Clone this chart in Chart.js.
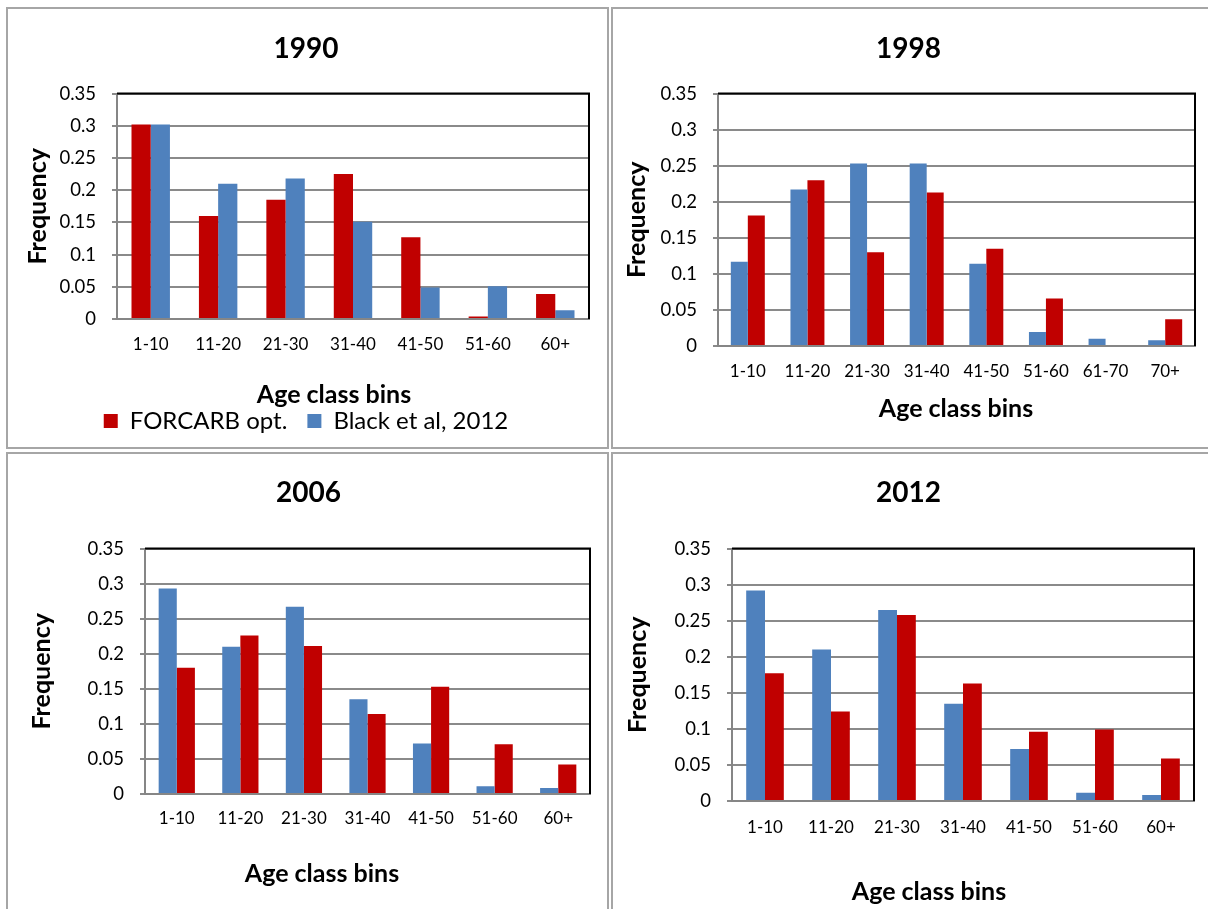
<!DOCTYPE html>
<html>
<head>
<meta charset="utf-8">
<title>Age class bins</title>
<script src="https://cdn.jsdelivr.net/npm/chart.js@4.4.1/dist/chart.umd.min.js"></script>
<style>
  body { margin: 0; background: #fff; width: 1208px; height: 909px; overflow: hidden; position: relative; font-family: Lato, sans-serif; }
  .panel { position: absolute; border: 2px solid #a6a6a6; box-sizing: border-box; }
  canvas { position: absolute; }
  .xtitle { position: absolute; transform: translate(-50%, -50%); font-weight: bold; font-size: 25px; white-space: nowrap; color: #000; }
</style>
</head>
<body>
<div class="panel" style="left:6px;top:7px;width:603px;height:442px"></div>
<div class="panel" style="left:611px;top:7px;width:610px;height:442px"></div>
<div class="panel" style="left:6px;top:452px;width:603px;height:470px"></div>
<div class="panel" style="left:611px;top:452px;width:610px;height:470px"></div>

<canvas id="chart1990" width="598" height="437" style="left:8px;top:10px"></canvas>
<canvas id="chart1998" width="595" height="437" style="left:613px;top:10px"></canvas>
<canvas id="chart2006" width="598" height="455" style="left:8px;top:454px"></canvas>
<canvas id="chart2012" width="595" height="455" style="left:613px;top:454px"></canvas>

<div class="xtitle" style="left:334px;top:393px">Age class bins</div>
<div class="xtitle" style="left:956px;top:407px">Age class bins</div>
<div class="xtitle" style="left:322px;top:872px">Age class bins</div>
<div class="xtitle" style="left:929px;top:890px">Age class bins</div>

<script>
// Data
const bins7 = ["1-10", "11-20", "21-30", "31-40", "41-50", "51-60", "60+"];
const bins8 = ["1-10", "11-20", "21-30", "31-40", "41-50", "51-60", "61-70", "70+"];
const yTickLabels = ["0", "0.05", "0.1", "0.15", "0.2", "0.25", "0.3", "0.35"];

const forcarb1990 = [0.302, 0.160, 0.185, 0.225, 0.127, 0.004, 0.039];
const black1990 = [0.302, 0.210, 0.218, 0.151, 0.049, 0.051, 0.0135];

const forcarb1998 = [0.181, 0.230, 0.130, 0.213, 0.135, 0.066, 0, 0.037];
const black1998 = [0.117, 0.217, 0.253, 0.253, 0.114, 0.0195, 0.010, 0.008];

const forcarb2006 = [0.180, 0.226, 0.211, 0.114, 0.153, 0.071, 0.042];
const black2006 = [0.293, 0.210, 0.267, 0.135, 0.072, 0.011, 0.0086];

const forcarb2012 = [0.177, 0.124, 0.258, 0.163, 0.096, 0.099, 0.059];
const black2012 = [0.292, 0.210, 0.265, 0.135, 0.072, 0.0116, 0.0083];

const labelForcarb = "FORCARB opt.";
const labelBlack = "Black et al, 2012";
const red = "#C00000";
const blue = "#4F81BD";

Chart.defaults.font.family = "Lato, sans-serif";
Chart.defaults.color = "#000";
Chart.defaults.animation = false;

// black frame on top and right of the plot area (Excel style)
const plotFrame = {
    id: "plotFrame",
    afterDraw(chart) {
        const ctx = chart.ctx;
        const a = chart.chartArea;
        ctx.save();
        ctx.strokeStyle = "#000";
        ctx.lineWidth = 2;
        ctx.beginPath();
        ctx.moveTo(a.left, a.top);
        ctx.lineTo(a.right, a.top);
        ctx.lineTo(a.right, a.bottom);
        ctx.stroke();
        ctx.restore();
    }
};

function ds(label, data, color) {
    return { label: label, data: data, backgroundColor: color, borderWidth: 0 };
}

// build one panel
function createChart(id, title, labels, datasets, lay) {
    const ctx = document.getElementById(id).getContext("2d");
    return new Chart(ctx, {
        type: "bar",
        data: { labels: labels, datasets: datasets },
        plugins: [plotFrame],
        options: {
            responsive: false,
            layout: { padding: { left: lay.padLeft, right: lay.padRight, top: 0, bottom: lay.padBottom } },
            datasets: { bar: { categoryPercentage: 0.57, barPercentage: 1 } },
            plugins: {
                title: {
                    display: true,
                    text: title,
                    font: { size: 28, weight: "bold" },
                    padding: { top: 22, bottom: lay.titleBottom }
                },
                legend: {
                    display: lay.legend,
                    position: "bottom",
                    labels: { boxWidth: 14, boxHeight: 14, padding: 20, font: { size: 24 } }
                },
                tooltip: { enabled: false }
            },
            scales: {
                x: {
                    ticks: { padding: lay.xTickPad, font: { size: 17 } },
                    grid: { display: false, drawTicks: false },
                    border: { color: "#868686", width: 2 },
                    afterFit: s => { s.height = lay.xHeight; }
                },
                y: {
                    min: 0,
                    max: 0.35,
                    ticks: {
                        stepSize: 0.05,
                        padding: 16,
                        font: { size: 18.5 },
                        callback: (v, i) => yTickLabels[i]
                    },
                    grid: { color: "#8a8a8a", lineWidth: 2, tickLength: 5 },
                    border: { color: "#868686", width: 2 },
                    title: { display: true, text: "Frequency", font: { size: 25, weight: "bold" }, padding: 0 },
                    afterFit: s => { s.width = lay.yWidth; }
                }
            }
        }
    });
}

createChart("chart1990", "1990", bins7,
    [ds(labelForcarb, forcarb1990, red), ds(labelBlack, black1990, blue)],
    { padLeft: 15, padRight: 17, padBottom: 4, yWidth: 94, xHeight: 70, titleBottom: 28, xTickPad: 15, legend: true });

createChart("chart1998", "1998", bins8,
    [ds(labelBlack, black1998, blue), ds(labelForcarb, forcarb1998, red)],
    { padLeft: 9, padRight: 13, padBottom: 30, yWidth: 96, xHeight: 71, titleBottom: 28, xTickPad: 15, legend: false });

createChart("chart2006", "2006", bins7,
    [ds(labelBlack, black2006, blue), ds(labelForcarb, forcarb2006, red)],
    { padLeft: 19, padRight: 16, padBottom: 30, yWidth: 118, xHeight: 85, titleBottom: 39, xTickPad: 14, legend: false });

createChart("chart2012", "2012", bins7,
    [ds(labelBlack, black2012, blue), ds(labelForcarb, forcarb2012, red)],
    { padLeft: 10, padRight: 14, padBottom: 30, yWidth: 109, xHeight: 78, titleBottom: 39, xTickPad: 16, legend: false });
</script>
</body>
</html>
